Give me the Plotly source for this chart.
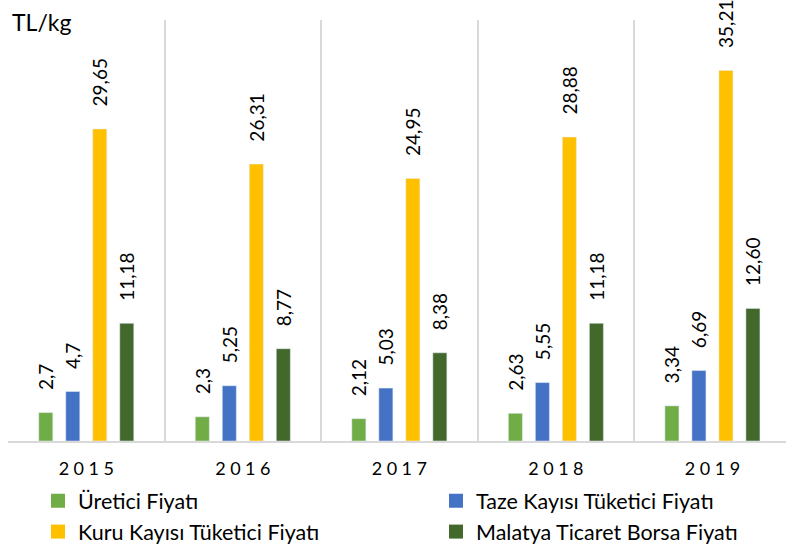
import plotly.graph_objects as go

years = ["2015", "2016", "2017", "2018", "2019"]
uretici = [2.7, 2.3, 2.12, 2.63, 3.34]
uretici_lbl = ["2,7", "2,3", "2,12", "2,63", "3,34"]
taze = [4.7, 5.25, 5.03, 5.55, 6.69]
taze_lbl = ["4,7", "5,25", "5,03", "5,55", "6,69"]
kuru = [29.65, 26.31, 24.95, 28.88, 35.21]
kuru_lbl = ["29,65", "26,31", "24,95", "28,88", "35,21"]
malatya = [11.18, 8.77, 8.38, 11.18, 12.60]
malatya_lbl = ["11,18", "8,77", "8,38", "11,18", "12,60"]

series = [
    ("Üretici Fiyatı", uretici, uretici_lbl, "#70ad47", "legend"),
    ("Taze Kayısı Tüketici Fiyatı", taze, taze_lbl, "#4472c4", "legend2"),
    ("Kuru Kayısı Tüketici Fiyatı", kuru, kuru_lbl, "#ffc000", "legend"),
    ("Malatya Ticaret Borsa Fiyatı", malatya, malatya_lbl, "#43682b", "legend2"),
]

FONT = "Lato, 'Open Sans', sans-serif"
ticktext = ["\u2005".join(y) for y in years]

fig = go.Figure()
for name, vals, lbl, col, lg in series:
    fig.add_trace(go.Bar(
        x=years, y=vals, name=name, marker_color=col, showlegend=False,
        text=lbl, texttemplate="\u00a0\u00a0\u00a0\u00a0%{text}",
        textposition="outside", textangle=-90, constraintext="none",
        textfont=dict(size=19, color="#000000", family=FONT),
        cliponaxis=False,
    ))
# legend entries (square swatches)
for name, vals, lbl, col, lg in series:
    fig.add_trace(go.Scatter(
        x=[None], y=[None], mode="markers", name=name, legend=lg, legendgroup=name,
        marker=dict(symbol="square", size=14, color=col), showlegend=True,
    ))

legend_common = dict(
    orientation="v", y=-0.093, yanchor="top",
    font=dict(size=21.5, family=FONT, color="#000000"),
    itemwidth=30, tracegroupgap=0, bgcolor="rgba(0,0,0,0)",
)

W, H = 786, 545
PW = W - 8
fig.update_layout(
    width=W, height=H,
    margin=dict(l=8, r=0, t=20, b=104, autoexpand=False),
    plot_bgcolor="white", paper_bgcolor="white",
    barmode="group", bargap=0.31, bargroupgap=0.48,
    font=dict(family=FONT, color="#000000"),
    showlegend=True,
    legend=dict(x=30 / PW, xanchor="left", **legend_common),
    legend2=dict(x=428 / PW, xanchor="left", **legend_common),
)
fig.update_xaxes(
    type="category", tickson="boundaries", showgrid=True, gridcolor="#d9d9d9", gridwidth=2,
    showline=True, linecolor="#d9d9d9", linewidth=2,
    ticks="", tickvals=years, ticktext=ticktext, ticklabelstandoff=10,
    tickfont=dict(size=18, family=FONT, color="#000000"),
    range=[-0.5, 4.47],
)
fig.update_yaxes(
    range=[0, 40], showgrid=False, showticklabels=False, zeroline=False, showline=False,
)
fig.add_annotation(
    text="TL/kg", xref="paper", yref="paper", x=0, y=1.0, xanchor="left", yanchor="middle",
    xshift=2, yshift=-2, showarrow=False, font=dict(size=23, family=FONT, color="#000000"),
)

fig.write_html("out.html", config={"displayModeBar": False},
               post_script="document.body.style.margin='0';")
